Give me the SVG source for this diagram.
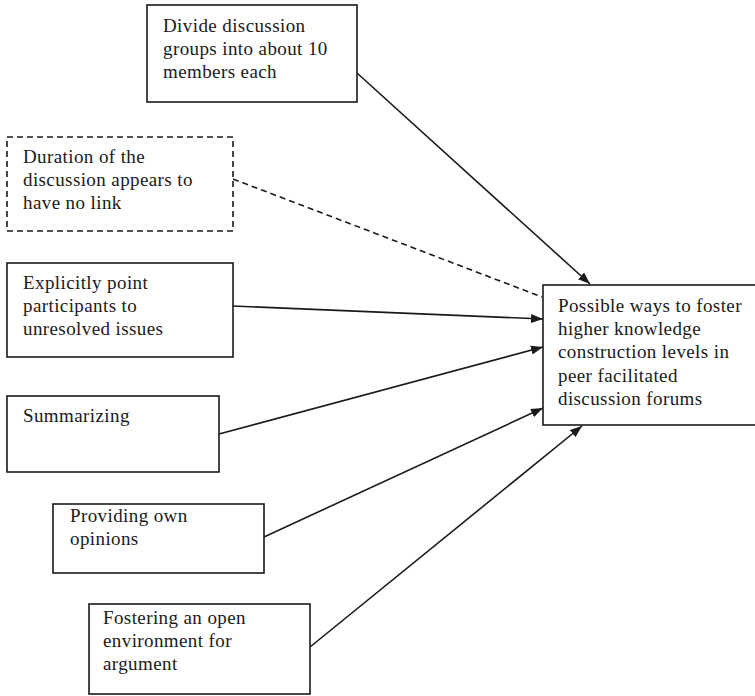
<svg xmlns="http://www.w3.org/2000/svg" width="755" height="696" viewBox="0 0 755 696">
<style>
.box{fill:#fff;stroke:#1a1a1a;stroke-width:1.6}
.dash{stroke-dasharray:6,4}
text{font-family:"Liberation Serif","Times New Roman",serif;font-size:19px;letter-spacing:0.4px;fill:#1a1a1a}
.edge{stroke:#1a1a1a;stroke-width:1.6;fill:none}
</style>
<defs>
<marker id="arr" viewBox="0 0 12 10" refX="12" refY="5" markerWidth="12" markerHeight="10" markerUnits="userSpaceOnUse" orient="auto">
<path d="M0,0.5 L12,5 L0,9.5 z" fill="#1a1a1a"/>
</marker>
</defs>
<rect width="755" height="696" fill="#fff"/>
<g id="connectors">
<line class="edge" x1="357" y1="73" x2="590" y2="284" marker-end="url(#arr)"/>
<line class="edge dash" x1="233" y1="179" x2="542" y2="297"/>
<line class="edge" x1="233" y1="306" x2="543" y2="319" marker-end="url(#arr)"/>
<line class="edge" x1="219" y1="434" x2="543" y2="347" marker-end="url(#arr)"/>
<line class="edge" x1="264" y1="537" x2="543" y2="408" marker-end="url(#arr)"/>
<line class="edge" x1="310" y1="647" x2="582" y2="426" marker-end="url(#arr)"/>
</g>
<g id="n_divide">
<rect class="box" x="147" y="5" width="210" height="97"/>
<text x="163" y="32">Divide discussion</text>
<text x="163" y="55">groups into about 10</text>
<text x="163" y="78">members each</text>
</g>
<g id="n_duration">
<rect class="box dash" x="7" y="137" width="226" height="94"/>
<text x="23" y="163">Duration of the</text>
<text x="23" y="186">discussion appears to</text>
<text x="23" y="209">have no link</text>
</g>
<g id="n_explicit">
<rect class="box" x="7" y="263" width="226" height="94"/>
<text x="23" y="289">Explicitly point</text>
<text x="23" y="312">participants to</text>
<text x="23" y="335">unresolved issues</text>
</g>
<g id="n_summarizing">
<rect class="box" x="7" y="396" width="212" height="76"/>
<text x="23" y="422">Summarizing</text>
</g>
<g id="n_providing">
<rect class="box" x="53" y="504" width="211" height="69"/>
<text x="70" y="522">Providing own</text>
<text x="70" y="545">opinions</text>
</g>
<g id="n_fostering">
<rect class="box" x="89" y="604" width="221" height="90"/>
<text x="103" y="624">Fostering an open</text>
<text x="103" y="647">environment for</text>
<text x="103" y="670">argument</text>
</g>
<g id="n_target">
<rect class="box" x="543" y="285" width="220" height="140"/>
<text x="558" y="312">Possible ways to foster</text>
<text x="558" y="335">higher knowledge</text>
<text x="558" y="358">construction levels in</text>
<text x="558" y="382">peer facilitated</text>
<text x="558" y="405">discussion forums</text>
</g>
</svg>
